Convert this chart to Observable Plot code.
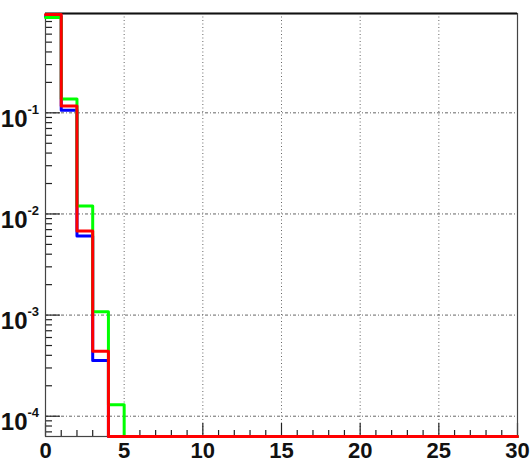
<!DOCTYPE html>
<html>
<head>
<meta charset="utf-8">
<script src="https://cdn.jsdelivr.net/npm/d3@7"></script>
<script src="https://cdn.jsdelivr.net/npm/@observablehq/plot@0.6"></script>
<style>
html, body { margin: 0; padding: 0; background: #fff; }
#chart svg { display: block; }
</style>
</head>
<body>
<div id="chart"></div>
<script>
// bin lower edges 0..29 (width 1), upper edge 30
const binEdges = [0,1,2,3,4,5,6,7,8,9,10,11,12,13,14,15,16,17,18,19,20,21,22,23,24,25,26,27,28,29,30];
const blueValues  = [0.90, 0.106, 0.00605, 0.000355, 0, 0, 0, 0, 0, 0, 0, 0, 0, 0, 0, 0, 0, 0, 0, 0, 0, 0, 0, 0, 0, 0, 0, 0, 0, 0];
const greenValues = [0.875, 0.137, 0.0120, 0.00108, 0.000130, 0, 0, 0, 0, 0, 0, 0, 0, 0, 0, 0, 0, 0, 0, 0, 0, 0, 0, 0, 0, 0, 0, 0, 0, 0];
const redValues   = [0.94, 0.117, 0.00678, 0.000438, 0, 0, 0, 0, 0, 0, 0, 0, 0, 0, 0, 0, 0, 0, 0, 0, 0, 0, 0, 0, 0, 0, 0, 0, 0, 0];
const xTickLabels = [0, 5, 10, 15, 20, 25, 30];
const yTickDecades = [1e-1, 1e-2, 1e-3, 1e-4];
const yTickExponents = ["-1", "-2", "-3", "-4"];
const xDomain = [0, 30];
const yDomain = [6.3e-5, 0.96];

const W = 530, H = 464;
const mL = 45, mR = 13, mT = 13, mB = 28;
const innerW = W - mL - mR, innerH = H - mT - mB;

function histTable(vals) {
  // zero bins drawn on the bottom of the log axis, as ROOT does
  return binEdges.map((e, i) => {
    const v = vals[Math.min(i, vals.length - 1)];
    return {x: e, y: v > 0 ? v : yDomain[0]};
  });
}

const xMinor = binEdges.filter(d => d % 5 !== 0);
const xMajor = xTickLabels;
const yMinor = [];
for (const dec of [1e-5, 1e-4, 1e-3, 1e-2, 1e-1]) {
  for (let k = 2; k <= 9; k++) {
    const v = +(k * dec).toPrecision(3);
    if (v >= yDomain[0] && v <= yDomain[1]) yMinor.push(v);
  }
}

const font = "'Liberation Sans Narrow', 'Liberation Sans', Arial, sans-serif";

const chart = Plot.plot({
  width: W,
  height: H,
  marginLeft: mL,
  marginRight: mR,
  marginTop: mT,
  marginBottom: mB,
  style: {fontFamily: font, background: "#fff", overflow: "visible"},
  x: {domain: xDomain, axis: null},
  y: {type: "log", domain: yDomain, axis: null},
  marks: [
    // grid
    Plot.ruleX([5, 10, 15, 20, 25], {stroke: "#666", strokeWidth: 1, strokeDasharray: "1,2.5"}),
    Plot.ruleY(yTickDecades, {stroke: "#666", strokeWidth: 1, strokeDasharray: "3,2,1,2"}),
    // ticks (inside the frame, ROOT style)
    Plot.tickX(xMinor, {x: d => d, insetTop: innerH - 6, stroke: "#222", strokeWidth: 1.2}),
    Plot.tickX(xMajor, {x: d => d, insetTop: innerH - 13, stroke: "#222", strokeWidth: 1.2}),
    Plot.tickY(yMinor, {y: d => d, insetRight: innerW - 7, stroke: "#222", strokeWidth: 1.2}),
    Plot.tickY(yTickDecades, {y: d => d, insetRight: innerW - 15, stroke: "#222", strokeWidth: 1.2}),
    // frame
    Plot.frame({stroke: "#444", strokeWidth: 1.2}),
    Plot.ruleY([yDomain[1]], {stroke: "#111", strokeWidth: 2}),
    // histograms
    Plot.lineY(histTable(blueValues), {x: "x", y: "y", curve: "step-after", stroke: "#0000ff", strokeWidth: 3}),
    Plot.lineY(histTable(greenValues), {x: "x", y: "y", curve: "step-after", stroke: "#00ff00", strokeWidth: 3}),
    Plot.lineY(histTable(redValues), {x: "x", y: "y", curve: "step-after", stroke: "#ff0000", strokeWidth: 3}),
    // x labels
    Plot.text(xTickLabels, {x: d => d, y: yDomain[0], dy: 14, text: d => String(d), fontSize: 22, fontWeight: "bold", fill: "#111", textAnchor: "middle"}),
    // y labels: "10" with exponent
    Plot.text(yTickDecades, {x: 0, y: d => d, dx: -18, dy: 6, text: () => "10", fontSize: 24, fontWeight: "bold", fill: "#111", textAnchor: "end"}),
    Plot.text(yTickDecades, {x: 0, y: d => d, dx: -18, dy: -3, text: (d, i) => yTickExponents[i], fontSize: 13, fontWeight: "bold", fill: "#111", textAnchor: "start"})
  ]
});

document.getElementById("chart").appendChild(chart);
</script>
</body>
</html>
